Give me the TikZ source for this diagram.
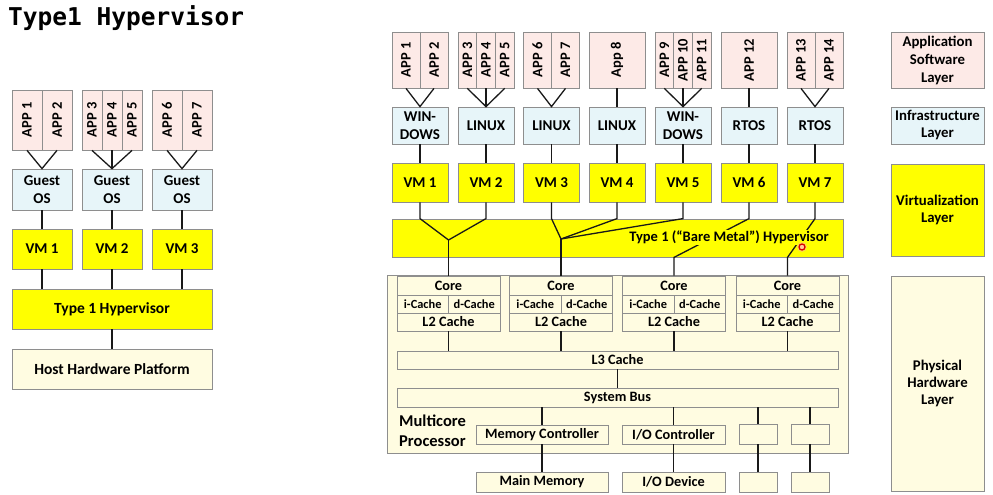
\documentclass[tikz,border=0pt]{standalone}
\usepackage{fontspec}
\setmainfont{Carlito}
\newfontfamily\titlefont{DejaVu Sans Mono}
\definecolor{appc}{HTML}{FDEAE7}
\definecolor{osc}{HTML}{E7F5F9}
\definecolor{vmc}{HTML}{FFFF00}
\definecolor{hwc}{HTML}{FFFCE1}
\definecolor{bordc}{HTML}{8E8E8E}
\tikzset{
  bw/.style={minimum width=#1},
  bh/.style={minimum height=#1},
  bx/.style={draw=bordc, line width=0.8pt, inner sep=0pt, align=center, font=\bfseries\fontsize{15}{17.5}\selectfont},
  app/.style={bx, fill=appc, font=\bfseries\fontsize{14.5}{16}\selectfont},
  os/.style={bx, fill=osc},
  vm/.style={bx, fill=vmc},
  hw/.style={bx, fill=hwc},
  sm/.style={hw, font=\bfseries\fontsize{14.3}{16}\selectfont},
  conn/.style={draw=black!90, line width=1.3pt},
}
\begin{document}
\begin{tikzpicture}[x=1pt,y=-1pt]
\useasboundingbox (0,0) rectangle (993,495);
\fill[white] (0,0) rectangle (993,495);
\node[anchor=base west, inner sep=0pt, font=\titlefont\bfseries\fontsize{24.5}{26}\selectfont] (title) at (8,26) {Type1 Hypervisor};

% ---------------- left diagram ----------------
\node[app, bw=30, bh=60] (la1) at (27,120) {\rotatebox{90}{APP 1}};
\node[app, bw=30, bh=60] (la2) at (57,120) {\rotatebox{90}{APP 2}};
\node[app, bw=20, bh=60] (la3) at (92,120) {\rotatebox{90}{APP 3}};
\node[app, bw=20, bh=60] (la4) at (112,120) {\rotatebox{90}{APP 4}};
\node[app, bw=20, bh=60] (la5) at (132,120) {\rotatebox{90}{APP 5}};
\node[app, bw=30, bh=60] (la6) at (167,120) {\rotatebox{90}{APP 6}};
\node[app, bw=30, bh=60] (la7) at (197,120) {\rotatebox{90}{APP 7}};

\node[os, bw=60, bh=41] (los1) at (42,189.5) {Guest\\OS};
\node[os, bw=60, bh=41] (los2) at (112,189.5) {Guest\\OS};
\node[os, bw=60, bh=41] (los3) at (182,189.5) {Guest\\OS};

\node[vm, bw=60, bh=40] (lvm1) at (42,249) {VM 1};
\node[vm, bw=60, bh=40] (lvm2) at (112,249) {VM 2};
\node[vm, bw=60, bh=40] (lvm3) at (182,249) {VM 3};

\node[vm, bw=200, bh=40, font=\bfseries\fontsize{15.5}{17.5}\selectfont] (lhyp) at (112,309) {Type 1 Hypervisor};
\node[hw, bw=200, bh=40, font=\bfseries\fontsize{15.5}{17.5}\selectfont] (lhost) at (112,369) {Host Hardware Platform};

\draw[conn] (la1.south) -- (los1.north) -- (la2.south);
\draw[conn] (la3.south) -- (los2.north) -- (la5.south);
\draw[conn] (la4.south) -- (los2.north);
\draw[conn] (la6.south) -- (los3.north) -- (la7.south);
\foreach \i in {1,2,3} {
  \draw[conn] (los\i.south) -- (lvm\i.north);
  \draw[conn] (lvm\i.south) -- (lvm\i.south |- lhyp.north);
}
\draw[conn] (lhyp.south) -- (lhost.north);

% ---------------- right diagram ----------------
% applications
\node[app, bw=28, bh=56] (a1) at (406,60) {\rotatebox{90}{APP 1}};
\node[app, bw=28, bh=56] (a2) at (434,60) {\rotatebox{90}{APP 2}};
\node[app, bw=18.67, bh=56] (a3) at (467.33,60) {\rotatebox{90}{APP 3}};
\node[app, bw=18.67, bh=56] (a4) at (486,60) {\rotatebox{90}{APP 4}};
\node[app, bw=18.67, bh=56] (a5) at (504.67,60) {\rotatebox{90}{APP 5}};
\node[app, bw=28, bh=56] (a6) at (537.5,60) {\rotatebox{90}{APP 6}};
\node[app, bw=28, bh=56] (a7) at (565.5,60) {\rotatebox{90}{APP 7}};
\node[app, bw=56, bh=56] (a8) at (617,60) {\rotatebox{90}{App 8}};
\node[app, bw=18.67, bh=56] (a9) at (664.33,60) {\rotatebox{90}{APP 9}};
\node[app, bw=18.67, bh=56] (a10) at (683,60) {\rotatebox{90}{APP 10}};
\node[app, bw=18.67, bh=56] (a11) at (701.67,60) {\rotatebox{90}{APP 11}};
\node[app, bw=56, bh=56] (a12) at (749,60) {\rotatebox{90}{APP 12}};
\node[app, bw=28, bh=56] (a13) at (801,60) {\rotatebox{90}{APP 13}};
\node[app, bw=28, bh=56] (a14) at (829,60) {\rotatebox{90}{APP 14}};

% operating systems
\node[os, bw=56, bh=37] (os1) at (420,125.5) {WIN-\\DOWS};
\node[os, bw=56, bh=37] (os2) at (486,125.5) {LINUX};
\node[os, bw=56, bh=37] (os3) at (551.5,125.5) {LINUX};
\node[os, bw=56, bh=37] (os4) at (617,125.5) {LINUX};
\node[os, bw=56, bh=37] (os5) at (683,125.5) {WIN-\\DOWS};
\node[os, bw=56, bh=37] (os6) at (749,125.5) {RTOS};
\node[os, bw=56, bh=37] (os7) at (815,125.5) {RTOS};

% virtual machines
\node[vm, bw=56, bh=39] (vm1) at (420,182.5) {VM 1};
\node[vm, bw=56, bh=39] (vm2) at (486,182.5) {VM 2};
\node[vm, bw=56, bh=39] (vm3) at (551.5,182.5) {VM 3};
\node[vm, bw=56, bh=39] (vm4) at (617,182.5) {VM 4};
\node[vm, bw=56, bh=39] (vm5) at (683,182.5) {VM 5};
\node[vm, bw=56, bh=39] (vm6) at (749,182.5) {VM 6};
\node[vm, bw=56, bh=39] (vm7) at (815,182.5) {VM 7};

% hypervisor
\node[vm, bw=451, bh=38] (hyp) at (617.5,238) {};

% multicore processor
\node[hw, bw=461, bh=178] (mc) at (617.5,364) {};
\foreach \i/\cx in {1/448.5, 2/561, 3/674, 4/787.5} {
  \node[sm, bw=103, bh=19, font=\bfseries\fontsize{14.3}{16}\selectfont] (c\i) at (\cx,285.5) {Core};
  \node[sm, bw=51.5, bh=18, font=\bfseries\fontsize{12.4}{14}\selectfont] (ic\i) at (\cx-25.75,304) {i-Cache};
  \node[sm, bw=51.5, bh=18, font=\bfseries\fontsize{12.4}{14}\selectfont] (dc\i) at (\cx+25.75,304) {d-Cache};
  \node[sm, bw=103, bh=18, font=\bfseries\fontsize{14.3}{16}\selectfont] (l2\i) at (\cx,322) {L2 Cache};
}
\node[sm, bw=441, bh=18] (l3) at (617.5,360) {L3 Cache};
\node[sm, bw=441, bh=19] (bus) at (617.5,397.5) {System Bus};
\node[anchor=west, align=left, inner sep=0pt, font=\bfseries\fontsize{16.5}{20}\selectfont] (mclabel) at (399,431) {Multicore\\Processor};
\node[sm, bw=132, bh=19] (memc) at (542,434.5) {Memory Controller};
\node[sm, bw=103, bh=19] (ioc) at (673.5,434.5) {I/O Controller};
\node[sm, bw=38, bh=20] (x1) at (758,434) {};
\node[sm, bw=38, bh=20] (x2) at (810,434) {};
\node[sm, bw=132, bh=20] (mem) at (542,482) {Main Memory};
\node[sm, bw=103, bh=20] (iod) at (673.5,482) {I/O Device};
\node[sm, bw=38, bh=20] (y1) at (758,482) {};
\node[sm, bw=38, bh=20] (y2) at (810,482) {};

% connectors apps -> OS
\draw[conn] (a1.south) -- (os1.north) -- (a2.south);
\draw[conn] (a3.south) -- (os2.north) -- (a5.south);
\draw[conn] (a4.south) -- (os2.north);
\draw[conn] (a6.south) -- (os3.north) -- (a7.south);
\draw[conn] (a8.south) -- (os4.north);
\draw[conn] (a9.south) -- (os5.north) -- (a11.south);
\draw[conn] (a10.south) -- (os5.north);
\draw[conn] (a12.south) -- (os6.north);
\draw[conn] (a13.south) -- (os7.north) -- (a14.south);
\foreach \i in {1,...,7} {
  \draw[conn] (os\i.south) -- (vm\i.north);
}
% VM -> hypervisor -> cores
\coordinate (j1) at (448.5,240);
\coordinate (j2) at (561,239);
\draw[conn] (vm1.south) -- (vm1.south |- hyp.north) -- (j1);
\draw[conn] (vm2.south) -- (vm2.south |- hyp.north) -- (j1);
\draw[conn] (j1) -- (c1.north);
\draw[conn] (vm3.south) -- (vm3.south |- hyp.north) -- (j2);
\draw[conn] (vm4.south) -- (vm4.south |- hyp.north) -- (j2);
\draw[conn] (vm5.south) -- (vm5.south |- hyp.north) -- (j2);
\draw[conn] (j2) -- (c2.north);
\draw[conn] (vm6.south) -- (vm6.south |- hyp.north) -- (c3.north |- hyp.south) -- (c3.north);
\draw[conn] (vm7.south) -- (vm7.south |- hyp.north) -- (c4.north |- hyp.south) -- (c4.north);
\node[fill=vmc, inner sep=0.6pt, font=\bfseries\fontsize{14.5}{16}\selectfont] (hyptext) at (729,237.5) {Type 1 (“Bare Metal”) Hypervisor};

% cores -> L3 -> bus -> controllers
\foreach \i in {1,...,4} {
  \draw[conn] (l2\i.south) -- (l2\i.south |- l3.north);
}
\draw[conn] (l3.south) -- (bus.north);
\draw[conn] (memc.north |- bus.south) -- (memc.north);
\draw[conn] (ioc.north |- bus.south) -- (ioc.north);
\draw[conn] (x1.north |- bus.south) -- (x1.north);
\draw[conn] (x2.north |- bus.south) -- (x2.north);
\draw[conn] (memc.south) -- (mem.north);
\draw[conn] (ioc.south) -- (iod.north);
\draw[conn] (x1.south) -- (y1.north);
\draw[conn] (x2.south) -- (y2.north);

% cursor marker
\fill[orange!50, opacity=0.6] (802,247) circle (5);
\draw[red!85!black, line width=1.3pt, fill=orange!40] (802,247) circle (3);

% ---------------- layer legend ----------------
\node[app, bw=93, bh=56, font=\bfseries\fontsize{14.8}{18}\selectfont] (lgapp) at (937.5,60) {Application\\Software\\Layer};
\node[os, bw=93, bh=37, font=\bfseries\fontsize{14.8}{17}\selectfont] (lgos) at (937.5,125.5) {Infrastructure\\Layer};
\node[vm, bw=93, bh=92, font=\bfseries\fontsize{14.8}{17}\selectfont] (lgvm) at (937.5,210) {Virtualization\\Layer};
\node[hw, bw=93, bh=215, font=\bfseries\fontsize{14.8}{17}\selectfont] (lghw) at (937.5,383.5) {Physical\\Hardware\\Layer};
\end{tikzpicture}
\end{document}
